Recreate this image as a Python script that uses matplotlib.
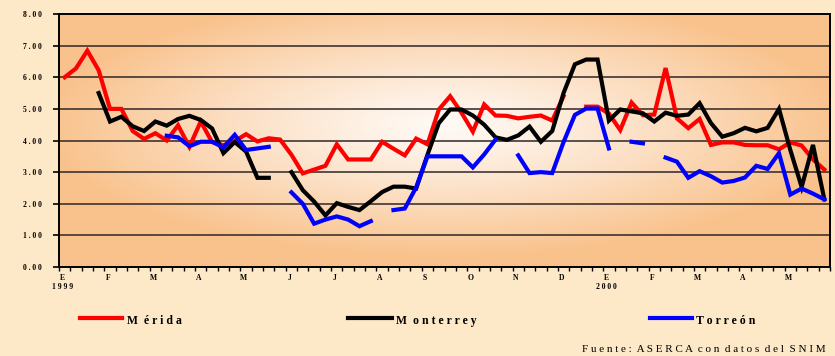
import numpy as np
import matplotlib.pyplot as plt
from matplotlib.colors import to_rgb
from matplotlib.lines import Line2D

nan = np.nan

# Month initials (Spanish), four weekly observations per month, Jan 1999 - May 2000
months = ["E", "F", "M", "A", "M", "J", "J", "A", "S", "O", "N", "D",
          "E", "F", "M", "A", "M"]
years = {0: "1999", 12: "2000"}
weeks_per_month = 4

# Weekly prices (pesos/kg) by market
merida = [6.00, 6.28, 6.84, 6.22, 5.00, 5.00, 4.30, 4.05, 4.23, 4.00, 4.48, 3.80,
          4.60, 3.95, 3.85, 3.98, 4.20, 3.97, 4.07, 4.03, 3.55, 2.96, 3.08, 3.20,
          3.88, 3.40, 3.40, 3.40, 3.96, 3.74, 3.53, 4.06, 3.88, 4.98, 5.40, 4.88,
          4.28, 5.14, 4.79, 4.78, 4.70, 4.75, 4.79, 4.63, 5.40, nan, 5.07, 5.07,
          4.85, 4.33, 5.20, 4.80, 4.82, 6.29, 4.70, 4.39, 4.68, 3.86, 3.94, 3.94,
          3.86, 3.85, 3.85, 3.72, 3.94, 3.84, 3.40, 3.08]

monterrey = [nan, nan, nan, 5.50, 4.60, 4.75, 4.45, 4.30, 4.60, 4.47, 4.68, 4.78,
             4.65, 4.38, 3.60, 3.95, 3.65, 2.82, 2.82, nan, 3.00, 2.43, 2.07, 1.63,
             2.02, 1.90, 1.80, 2.08, 2.37, 2.54, 2.54, 2.48, 3.55, 4.55, 4.98, 4.98,
             4.79, 4.50, 4.10, 4.02, 4.16, 4.44, 3.96, 4.30, 5.50, 6.41, 6.56, 6.56,
             4.63, 4.98, 4.92, 4.86, 4.60, 4.88, 4.78, 4.82, 5.18, 4.55, 4.12, 4.23,
             4.40, 4.29, 4.40, 5.00, 3.70, 2.53, 3.86, 2.14]

torreon = [nan, nan, nan, nan, nan, nan, nan, nan, nan, 4.15, 4.10, 3.82,
           3.96, 3.96, 3.78, 4.18, 3.70, 3.75, 3.80, nan, 2.36, 2.00, 1.37, 1.50,
           1.60, 1.50, 1.29, 1.45, nan, 1.80, 1.85, 2.52, 3.50, 3.50, 3.50, 3.50,
           3.15, 3.56, 4.03, nan, 3.53, 2.97, 3.00, 2.97, 3.95, 4.81, 5.01, 5.01,
           3.75, nan, 3.96, 3.91, nan, 3.46, 3.33, 2.82, 3.03, 2.87, 2.67, 2.72,
           2.83, 3.20, 3.10, 3.60, 2.29, 2.48, 2.32, 2.14]

series_names = ["Mérida", "Monterrey", "Torreón"]
series_colors = ["#ff0000", "#000000", "#0000ff"]
y_ticks = [0, 1, 2, 3, 4, 5, 6, 7, 8]
source_text = "Fuente: ASERCA con datos del SNIM"


def spaced(s, gap=" "):
    return gap.join(s)


W, H = 835, 356
fig = plt.figure(figsize=(W / 100, H / 100), dpi=100)
fig.patch.set_facecolor("#fde8c8")

left, right, top, bottom = 59, 830, 14, 267
ax = fig.add_axes([left / W, (H - bottom) / H, (right - left) / W, (bottom - top) / H])

n = len(merida)
x = np.arange(n) + 0.5

# radial light-to-peach fill of the plot area
gx, gy = np.meshgrid(np.linspace(0, 1, 400), np.linspace(0, 1, 200))
r = np.sqrt(((gx - 0.5) / 0.52) ** 2 + ((gy - 0.56) / 0.52) ** 2)
t = np.clip(r, 0, 1) ** 1.15
c0 = np.array(to_rgb("#fffaf6"))
c1 = np.array(to_rgb("#f9c28c"))
img = c0[None, None, :] * (1 - t[..., None]) + c1[None, None, :] * t[..., None]
ax.imshow(img, extent=[0, 1, 0, 1], transform=ax.transAxes, origin="lower",
          aspect="auto", zorder=0, interpolation="bilinear")

ax.set_xlim(0, n)
ax.set_ylim(0, 8)

for yv in y_ticks[1:-1]:
    ax.axhline(yv, color="#2e2626", lw=1.1, zorder=1)

for vals, col in zip([merida, monterrey, torreon], series_colors):
    ax.plot(x, vals, color=col, lw=3.0, solid_joinstyle="miter", zorder=3)

for s in ax.spines.values():
    s.set_color("black")
    s.set_linewidth(1.4)
    s.set_zorder(4)

ax.set_yticks(y_ticks)
ax.set_yticklabels([spaced(f"{v:.2f}") for v in y_ticks],
                   fontfamily="Liberation Serif", fontweight="bold", fontsize=5.5)
ax.tick_params(axis="y", length=4.5, width=1.2, pad=8, direction="out")

ax.set_xticks(np.arange(0, n + 1))
ax.set_xticklabels([])
ax.tick_params(axis="x", length=3, width=1.0, direction="out")

for m, lab in enumerate(months):
    xm = m * weeks_per_month + 0.3
    ax.text(xm, -0.043, lab, transform=ax.get_xaxis_transform(), ha="center",
            va="center", fontfamily="Liberation Serif", fontweight="bold",
            fontsize=5.5)
    if m in years:
        ax.text(xm, -0.079, spaced(years[m]), transform=ax.get_xaxis_transform(),
                ha="center", va="center", fontfamily="Liberation Serif",
                fontweight="bold", fontsize=5.5)

# legend row
legend_items = [
    (80, 122, 127, "M  é r i d a"),
    (348, 392, 396, "M  o n t e r r e y"),
    (650, 692, 696, "T o r r e ó n"),
]
for (x0, x1, xt, label), col in zip(legend_items, series_colors):
    fig.add_artist(Line2D([x0 / W, x1 / W], [(H - 318) / H] * 2, color=col,
                          lw=3.0, transform=fig.transFigure))
    fig.text(xt / W, (H - 321) / H, label, ha="left", va="center",
             fontfamily="Liberation Serif", fontweight="bold", fontsize=8.5)

fig.text(582 / W, (H - 350) / H, spaced(source_text).replace("   ", "  "),
         ha="left", va="center", fontfamily="Liberation Serif", fontsize=8)

fig.savefig("out.png", dpi=100, facecolor=fig.get_facecolor())
